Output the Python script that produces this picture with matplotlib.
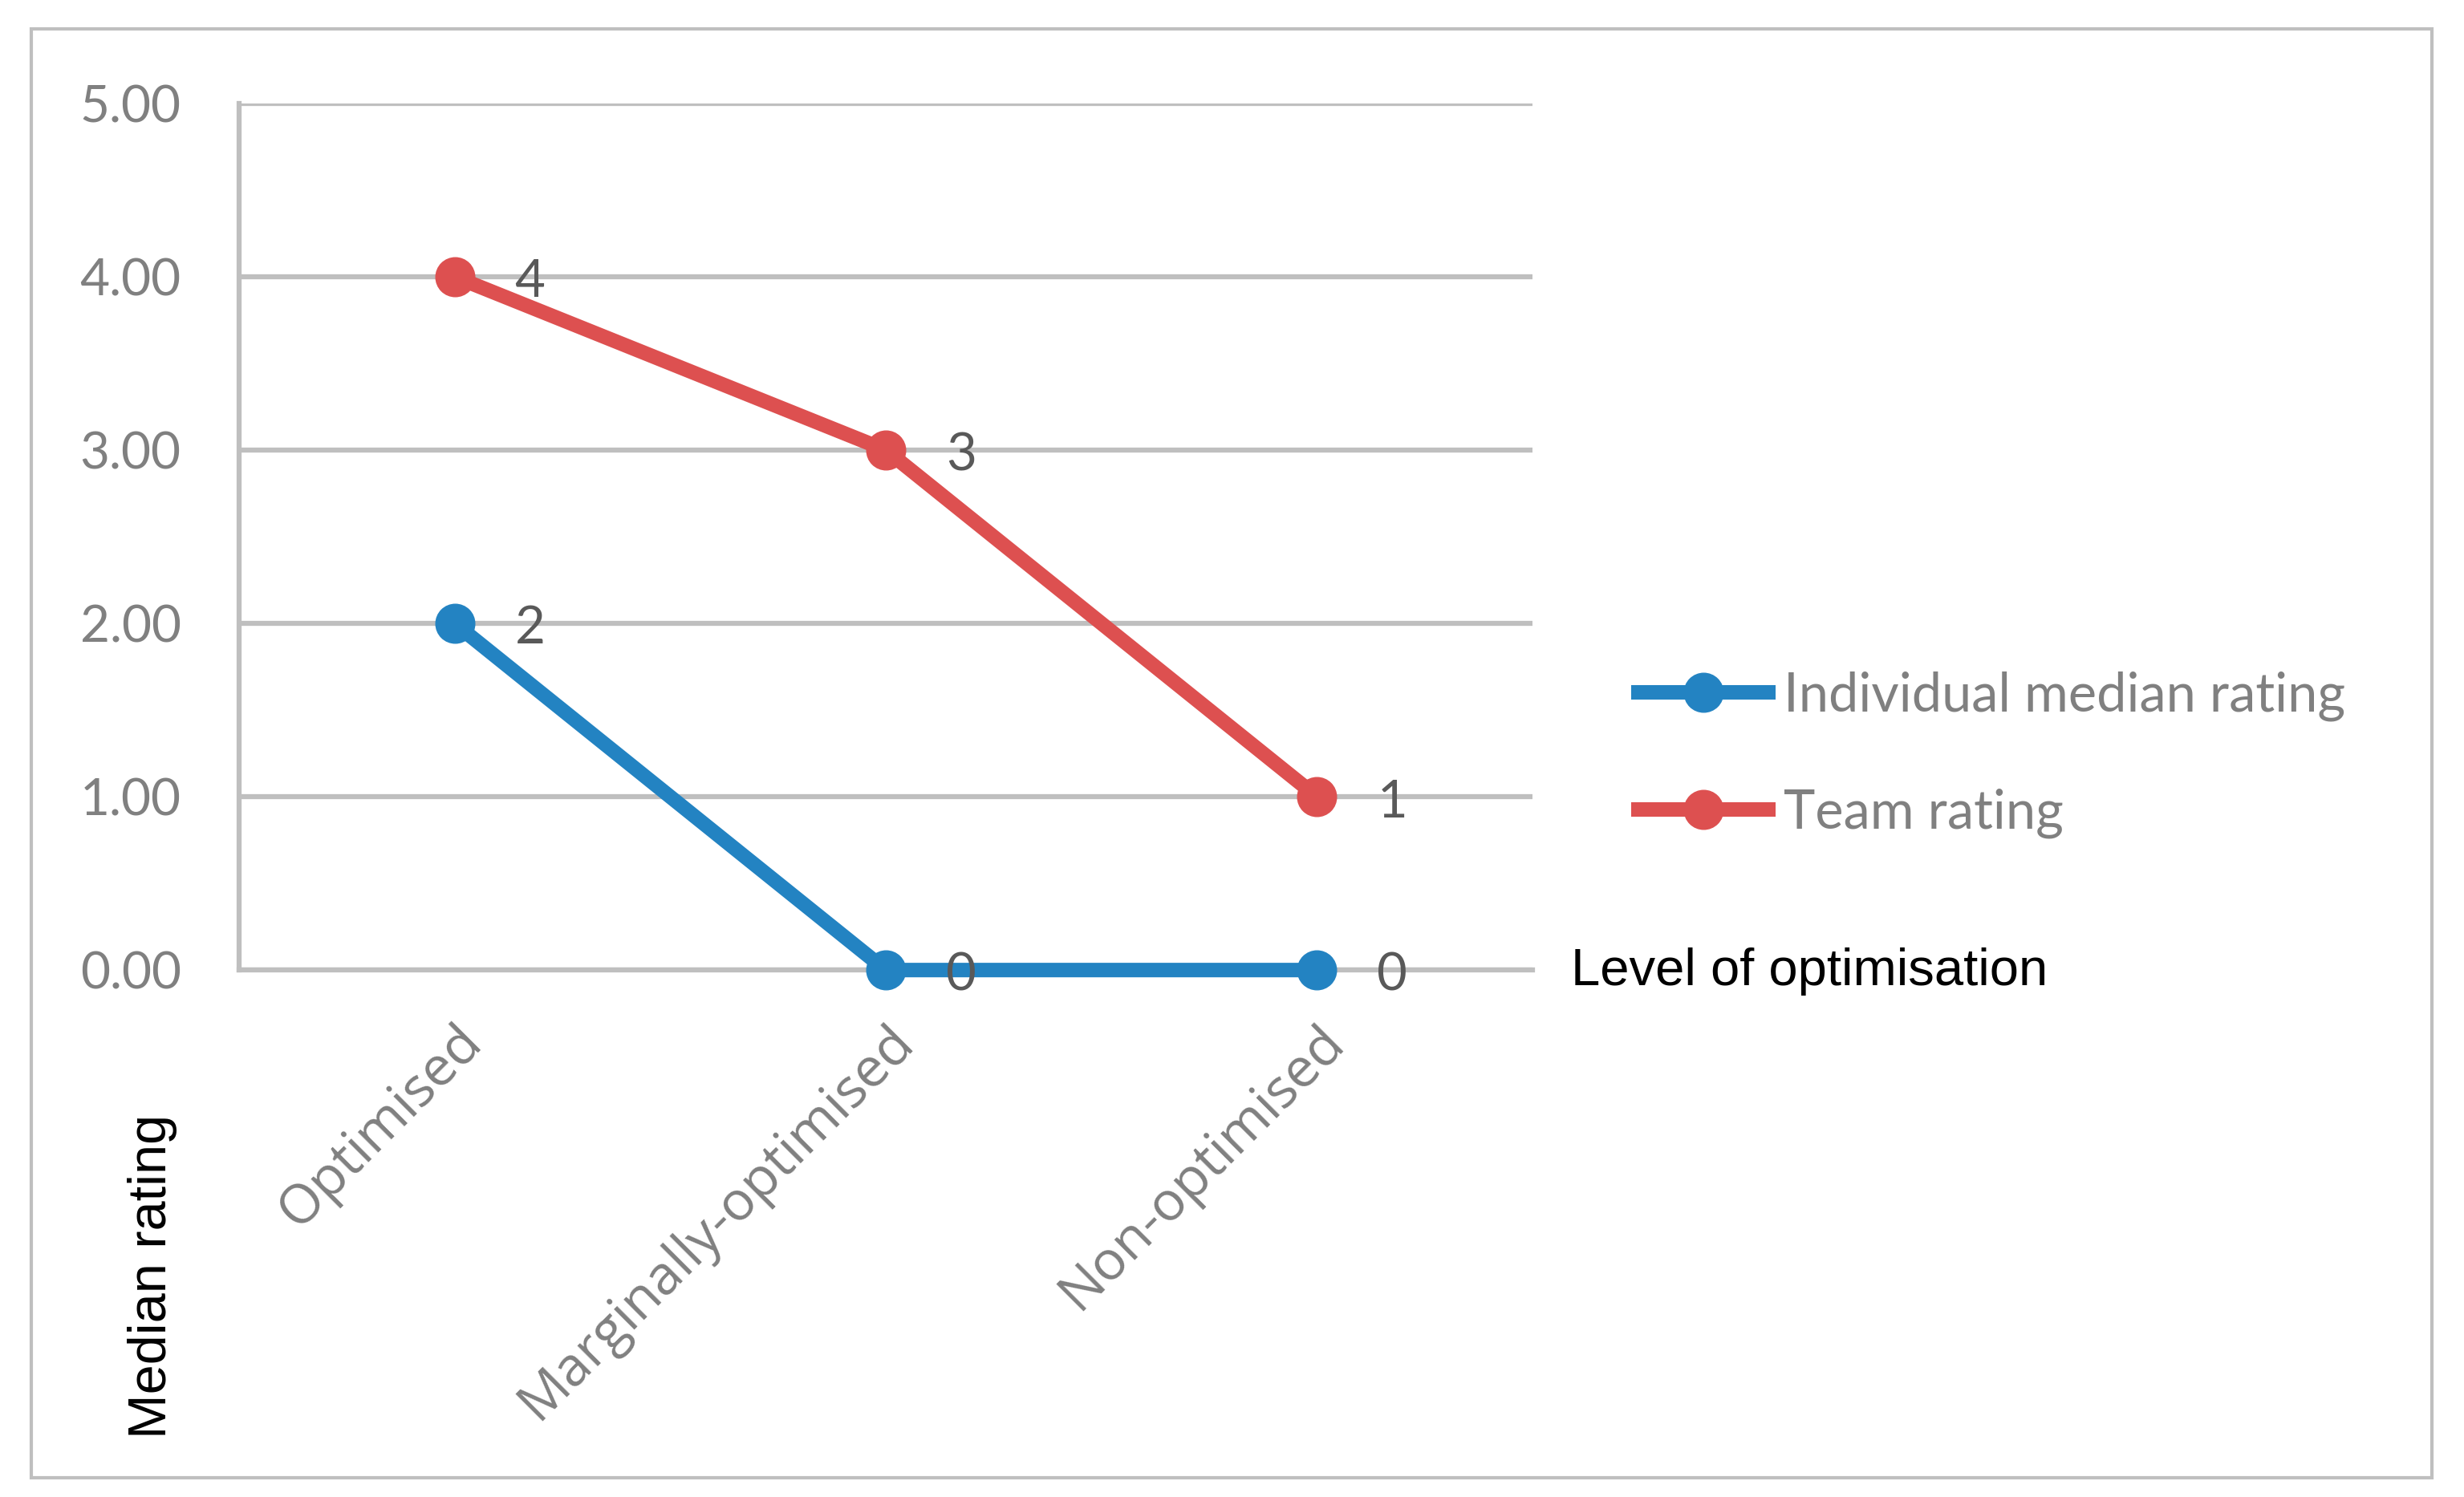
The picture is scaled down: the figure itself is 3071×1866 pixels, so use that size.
import numpy as np
import matplotlib.pyplot as plt
import matplotlib.transforms as mtransforms
from matplotlib.patches import Rectangle
from matplotlib.ticker import FormatStrFormatter

# data
categories = ["Optimised", "Marginally-optimised", "Non-optimised"]
individual = [2, 0, 0]
team = [4, 3, 1]
y_ticks = [0, 1, 2, 3, 4, 5]

blue = "#2383C2"
red = "#DD5050"
grid_col = "#BFBFBF"
tick_col = "#808080"
label_col = "#595959"
fs = 46

fig = plt.figure(figsize=(30.71, 18.66), dpi=100)
ax = fig.add_axes([0.097, 0.352, 0.525, 0.579])

x = np.arange(len(categories))
ax.plot(x, individual, "-o", color=blue, lw=13, ms=35, label="Individual median rating",
        solid_capstyle="butt", clip_on=False, zorder=3)
ax.plot(x, team, "-o", color=red, lw=13, ms=35, label="Team rating",
        solid_capstyle="butt", clip_on=False, zorder=3)

for series in (individual, team):
    for xi, v in zip(x, series):
        ax.annotate(str(v), (xi, v), xytext=(54, -5), textcoords="offset points",
                    ha="left", va="center", fontsize=47, color=label_col, family="Lato",
                    zorder=5)

ax.set_xlim(-0.5, len(categories) - 0.5)
ax.set_ylim(0, 5)
ax.set_yticks(y_ticks)
ax.yaxis.set_major_formatter(FormatStrFormatter("%.2f"))
ax.set_xticks(x)
ax.set_xticklabels(categories, rotation=45, ha="right", va="top", rotation_mode="anchor",
                   family="Open Sans", fontsize=49, color=tick_col)
shift = mtransforms.ScaledTranslation(-12 / 100, 0, fig.dpi_scale_trans)
for t in ax.get_xticklabels():
    t.set_transform(t.get_transform() + shift)
for t in ax.get_yticklabels():
    t.set_family("Lato")
ax.tick_params(axis="y", length=0, pad=52, labelsize=fs, labelcolor=tick_col)
ax.tick_params(axis="x", length=0, pad=40)

ax.yaxis.grid(True, color=grid_col, lw=4.5)
ax.set_axisbelow(True)
for s in ("top", "right"):
    ax.spines[s].set_visible(False)
for s in ("left", "bottom"):
    ax.spines[s].set_color(grid_col)
    ax.spines[s].set_linewidth(4.5)

fig.legend(loc="center left", bbox_to_anchor=(0.651, 0.496), frameon=False,
           prop={"family": "Lato", "size": 48}, labelcolor=tick_col,
           handlelength=2.7, handletextpad=0.15, labelspacing=1.25, borderpad=0)

fig.text(1958 / 3071, 1 - 1211 / 1866, "Level of optimisation", ha="left", va="center",
         fontsize=47, family="Liberation Sans", color="black")
fig.text(190 / 3071, 1 - 1793 / 1866, "Median rating", rotation=90, ha="center", va="bottom",
         fontsize=48, family="Liberation Sans", color="black")

fig.add_artist(Rectangle((39 / 3071, 1 - 1842 / 1866), (3031 - 39) / 3071, (1842 - 36) / 1866,
                         transform=fig.transFigure, fill=False, edgecolor=grid_col, lw=3))

fig.savefig("out.png", dpi=100)
